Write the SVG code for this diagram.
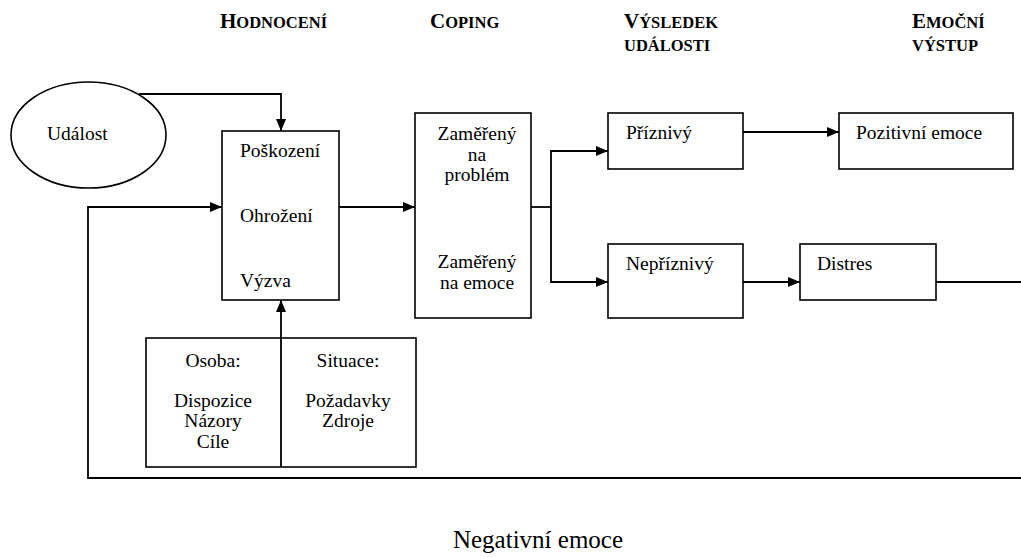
<svg xmlns="http://www.w3.org/2000/svg" width="1021" height="558" viewBox="0 0 1021 558">
<style>
.box{fill:#fff;stroke:#000;stroke-width:1.6}
.ln{fill:none;stroke:#000;stroke-width:1.8}
text{font-family:"Liberation Serif","Times New Roman",Tinos,"DejaVu Serif",serif;fill:#000}
.t{font-size:19.5px;font-weight:normal}
.h{font-weight:bold;font-size:16.5px}
.hc{font-size:21px}
.m{text-anchor:middle}
</style>
<defs>
<marker id="arr" markerUnits="userSpaceOnUse" markerWidth="12" markerHeight="10" refX="12" refY="5" orient="auto">
<path d="M0,0 L12,5 L0,10 z" fill="#000"/>
</marker>
</defs>
<rect width="1021" height="558" fill="#fff"/>
<g id="headers">
<text class="h" x="220" y="28"><tspan class="hc">H</tspan>ODNOCENÍ</text>
<text class="h" x="430" y="28"><tspan class="hc">C</tspan>OPING</text>
<text class="h" x="624" y="28"><tspan class="hc">V</tspan>ÝSLEDEK</text>
<text class="h" x="624" y="51">UDÁLOSTI</text>
<text class="h" x="912" y="28"><tspan class="hc">E</tspan>MOČNÍ</text>
<text class="h" x="912" y="51">VÝSTUP</text>
</g>
<g id="connectors">
<path class="ln" d="M139,94 H281 V131" marker-end="url(#arr)"/>
<path class="ln" d="M339,207 H415" marker-end="url(#arr)"/>
<path class="ln" d="M1021,478 H88 V207 H222" marker-end="url(#arr)"/>
<path class="ln" d="M936,282 H1021"/>
<path class="ln" d="M531,207 H551"/>
<path class="ln" d="M551,207 V151 H608" marker-end="url(#arr)"/>
<path class="ln" d="M551,207 V282 H608" marker-end="url(#arr)"/>
<path class="ln" d="M743,132 H839" marker-end="url(#arr)"/>
<path class="ln" d="M743,282 H800" marker-end="url(#arr)"/>
</g>
<g id="udalost">
<ellipse class="box" cx="88.5" cy="135" rx="77.5" ry="53"/>
<text class="t" x="47" y="140">Událost</text>
</g>
<g id="hodnoceni">
<rect class="box" x="222" y="131" width="117" height="169"/>
<text class="t" x="240" y="157">Poškození</text>
<text class="t" x="240" y="222">Ohrožení</text>
<text class="t" x="240" y="287">Výzva</text>
</g>
<g id="coping">
<rect class="box" x="415" y="113" width="116" height="205"/>
<text class="t m" x="477" y="140">Zaměřený</text>
<text class="t m" x="477" y="161">na</text>
<text class="t m" x="477" y="181">problém</text>
<text class="t m" x="477" y="268">Zaměřený</text>
<text class="t m" x="477" y="289">na emoce</text>
</g>
<g id="priznivy">
<rect class="box" x="608" y="113" width="135" height="56"/>
<text class="t" x="626" y="139">Příznivý</text>
</g>
<g id="nepriznivy">
<rect class="box" x="608" y="244" width="135" height="74"/>
<text class="t" x="626" y="270">Nepříznivý</text>
</g>
<g id="pozitivni">
<rect class="box" x="839" y="113" width="174" height="56"/>
<text class="t" x="856" y="139">Pozitivní emoce</text>
</g>
<g id="distres">
<rect class="box" x="800" y="244" width="136" height="56"/>
<text class="t" x="817" y="270">Distres</text>
</g>
<g id="osoba-situace">
<rect class="box" x="146" y="338" width="270" height="129"/>
<path class="ln" d="M281,467 V300" marker-end="url(#arr)"/>
<text class="t m" x="213" y="367">Osoba:</text>
<text class="t m" x="213" y="407">Dispozice</text>
<text class="t m" x="213" y="427">Názory</text>
<text class="t m" x="213" y="448">Cíle</text>
<text class="t m" x="348" y="367">Situace:</text>
<text class="t m" x="348" y="407">Požadavky</text>
<text class="t m" x="348" y="427">Zdroje</text>
</g>
<g id="negativni">
<text class="t m" x="538" y="548" style="font-size:25px">Negativní emoce</text>
</g>
</svg>
